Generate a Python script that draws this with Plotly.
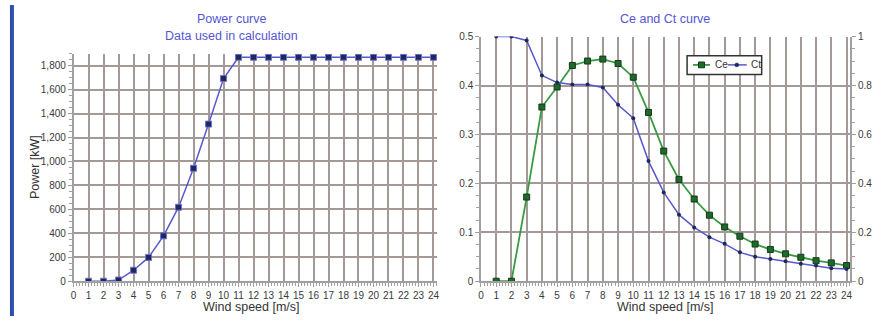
import plotly.graph_objects as go

W, H = 881, 322

wind = list(range(1, 25))
power_kw = [0, 0, 10, 92, 199, 379, 618, 943, 1312, 1693, 1870, 1870, 1870, 1870,
            1870, 1870, 1870, 1870, 1870, 1870, 1870, 1870, 1870, 1870]
ce = [0, 0, 0.172, 0.356, 0.397, 0.441, 0.450, 0.454, 0.445, 0.417, 0.345, 0.266,
      0.208, 0.168, 0.135, 0.111, 0.092, 0.076, 0.065, 0.056, 0.049, 0.042, 0.0375, 0.032]
ct = [1.0, 1.0, 0.984, 0.841, 0.812, 0.804, 0.804, 0.792, 0.721, 0.666, 0.491, 0.363,
      0.272, 0.220, 0.180, 0.153, 0.118, 0.100, 0.091, 0.082, 0.071, 0.064, 0.053, 0.050]
x_ticks = list(range(0, 25))
series_names = ["Ce", "Ct"]

FONT = "Arial, Liberation Sans, sans-serif"
GRID = "#a39a97"
AXIS = "#a0a0a0"
TICKFONT = dict(family=FONT, size=10, color="#3a3a3a")
BLUE = "#5858cc"
GREEN = "#3a9a42"
NAVY = "#1c2a5a"
DKGREEN = "#1d6a2a"
TITLE_C = "#5656d2"

def px(x):
    return x / W

def py(y):
    return 1 - y / H

fig = go.Figure()

fig.add_trace(go.Scatter(
    x=wind, y=power_kw, mode="lines+markers", xaxis="x", yaxis="y",
    line=dict(color=BLUE, width=1.5),
    marker=dict(symbol="square", size=6, color=NAVY, line=dict(color="#7070d8", width=1)),
    showlegend=False))

fig.add_trace(go.Scatter(
    x=wind, y=ce, mode="lines+markers", xaxis="x2", yaxis="y2", name=series_names[0],
    line=dict(color=GREEN, width=1.8),
    marker=dict(symbol="square", size=6, color=DKGREEN, line=dict(color="#153a18", width=1)),
    showlegend=False))

fig.add_trace(go.Scatter(
    x=wind, y=ct, mode="lines+markers", xaxis="x2", yaxis="y3", name=series_names[1],
    line=dict(color=BLUE, width=1.5),
    marker=dict(symbol="circle", size=4, color=NAVY),
    showlegend=False))

common_x = dict(
    tickmode="array", tickvals=x_ticks, ticktext=[str(v) for v in x_ticks],
    showgrid=True, gridcolor=GRID, gridwidth=1.8,
    showline=True, linecolor=AXIS, linewidth=1.5,
    ticks="outside", ticklen=4, tickcolor=AXIS,
    minor=dict(dtick=0.2, ticks="outside", ticklen=3, tickcolor=AXIS, showgrid=False),
    tickfont=TICKFONT, zeroline=False, fixedrange=True)

fig.update_layout(
    width=W, height=H,
    margin=dict(l=0, r=0, t=0, b=0),
    paper_bgcolor="white", plot_bgcolor="white",
    font=dict(family=FONT),
    showlegend=False,
    xaxis=dict(common_x, range=[0, 24.25], domain=[px(71), px(436.7)], anchor="y"),
    yaxis=dict(range=[0, 1900], domain=[py(286), py(50.4)], anchor="x",
               tickvals=[0, 200, 400, 600, 800, 1000, 1200, 1400, 1600, 1800],
               ticktext=["0", "200", "400", "600", "800", "1,000", "1,200", "1,400", "1,600", "1,800"],
               showgrid=True, gridcolor=GRID, gridwidth=1.8,
               showline=True, linecolor=AXIS, linewidth=1.5,
               ticks="outside", ticklen=4, tickcolor=AXIS,
               minor=dict(dtick=50, ticks="outside", ticklen=3, tickcolor=AXIS, showgrid=False),
               tickfont=TICKFONT, zeroline=False, fixedrange=True),
    xaxis2=dict(common_x, range=[0, 24.24], domain=[px(480.7), px(852)], anchor="y2"),
    yaxis2=dict(range=[0, 0.5], domain=[py(286), py(32.7)], anchor="x2",
                tickvals=[0, 0.1, 0.2, 0.3, 0.4, 0.5],
                ticktext=["0", "0.1", "0.2", "0.3", "0.4", "0.5"],
                showgrid=True, gridcolor=GRID, gridwidth=1.8,
                showline=True, linecolor=AXIS, linewidth=1.5,
                ticks="outside", ticklen=4, tickcolor=AXIS,
                minor=dict(dtick=0.025, ticks="outside", ticklen=3, tickcolor=AXIS, showgrid=False),
                tickfont=TICKFONT, zeroline=False, fixedrange=True),
    yaxis3=dict(range=[0, 1], overlaying="y2", side="right", anchor="x2",
                tickvals=[0, 0.2, 0.4, 0.6, 0.8, 1],
                ticktext=["0", "0.2", "0.4", "0.6", "0.8", "1"],
                showgrid=False, showline=True, linecolor=AXIS, linewidth=1.5,
                ticks="outside", ticklen=4, tickcolor=AXIS,
                minor=dict(dtick=0.05, ticks="outside", ticklen=3, tickcolor=AXIS),
                tickfont=TICKFONT, zeroline=False, fixedrange=True),
)

# blue stripe at left edge
fig.add_shape(type="rect", xref="paper", yref="paper", x0=px(7), x1=px(11), y0=0, y1=1,
              fillcolor="#2f4fae", line=dict(width=0), layer="above")

# compact legend box (Ce / Ct)
ly = 62
fig.add_shape(type="rect", xref="paper", yref="paper", x0=px(688), x1=px(763),
              y0=py(72), y1=py(52.5), fillcolor="white", line=dict(color="#333333", width=1.5),
              layer="above")
fig.add_shape(type="line", xref="paper", yref="paper", x0=px(694), x1=px(711), y0=py(ly), y1=py(ly),
              line=dict(color=GREEN, width=1.8), layer="above")
fig.add_shape(type="rect", xref="paper", yref="paper", x0=px(699.5), x1=px(705.5), y0=py(ly + 3), y1=py(ly - 3),
              fillcolor=DKGREEN, line=dict(color="#153a18", width=1), layer="above")
fig.add_shape(type="line", xref="paper", yref="paper", x0=px(729), x1=px(748), y0=py(ly), y1=py(ly),
              line=dict(color=BLUE, width=1.5), layer="above")
fig.add_shape(type="circle", xref="paper", yref="paper", x0=px(736), x1=px(740), y0=py(ly + 2), y1=py(ly - 2),
              fillcolor=NAVY, line=dict(color=NAVY, width=0.5), layer="above")

def ann(text, x, y, size, color, angle=0, xanchor="center"):
    fig.add_annotation(text=text, xref="paper", yref="paper", x=px(x), y=py(y),
                       xanchor=xanchor, yanchor="middle", showarrow=False, textangle=angle,
                       font=dict(family=FONT, size=size, color=color))

ann(series_names[0], 714, ly, 10, "#333333", xanchor="left")
ann(series_names[1], 750, ly, 10, "#333333", xanchor="left")
ann("Power curve", 230, 15, 12.5, TITLE_C)
ann("Data used in calculation", 230, 32, 12.5, TITLE_C)
ann("Ce and Ct curve", 666, 15, 12.5, TITLE_C)
ann("Wind speed [m/s]", 250, 313, 12.5, "#333333")
ann("Wind speed [m/s]", 666, 313, 12.5, "#333333")
ann("Power [kW]", 32, 168, 12.5, "#333333", angle=-90)

fig.write_html("out.html")
